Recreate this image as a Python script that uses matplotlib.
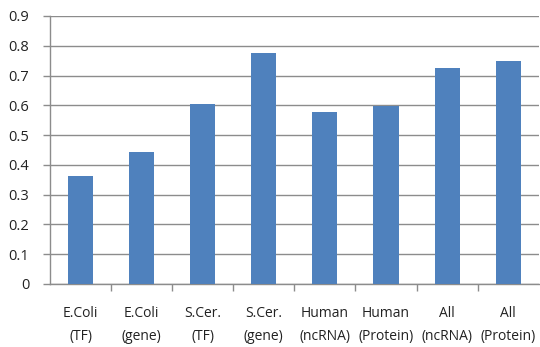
import matplotlib
matplotlib.use("Agg")
import matplotlib.pyplot as plt
import numpy as np

categories = ["E.Coli\n(TF)", "E.Coli\n(gene)", "S.Cer.\n(TF)", "S.Cer.\n(gene)",
              "Human\n(ncRNA)", "Human\n(Protein)", "All\n(ncRNA)", "All\n(Protein)"]
values = [0.362, 0.443, 0.604, 0.776, 0.578, 0.597, 0.725, 0.749]
yticks = [0, 0.1, 0.2, 0.3, 0.4, 0.5, 0.6, 0.7, 0.8, 0.9]
ytick_labels = ["0", "0.1", "0.2", "0.3", "0.4", "0.5", "0.6", "0.7", "0.8", "0.9"]

plt.rcParams["font.family"] = ["Open Sans", "DejaVu Sans"]

fig = plt.figure(figsize=(5.4, 3.47), dpi=100)
ax = fig.add_axes([0.0926, 0.1816, 0.905, 0.7724])

x = np.arange(len(categories))
ax.bar(x, values, width=0.41, color="#4F81BD", zorder=3)

ax.set_xlim(-0.5, len(categories) - 0.5)
ax.set_ylim(0, 0.9)
ax.set_yticks(yticks)
ax.set_yticklabels(ytick_labels, fontsize=10.5, color="#222222")
ax.yaxis.grid(True, color="#8c8c8c", linewidth=1.0, zorder=0)

# category labels centred under bars, tick marks on category boundaries
ax.set_xticks(x)
ax.set_xticklabels(categories, fontsize=10, color="#222222", linespacing=1.75)
ax.tick_params(axis="x", length=0, pad=16)
ax.set_xticks(np.arange(0.5, len(categories) - 0.5, 1.0), minor=True)
ax.tick_params(axis="x", which="minor", length=5, color="#8c8c8c", width=1.0)
ax.tick_params(axis="y", length=5, color="#8c8c8c", width=1.0, pad=10)

for side in ("top", "right"):
    ax.spines[side].set_visible(False)
for side in ("left", "bottom"):
    ax.spines[side].set_color("#8c8c8c")
    ax.spines[side].set_linewidth(1.0)

fig.savefig("out.png", dpi=100, facecolor="white")
